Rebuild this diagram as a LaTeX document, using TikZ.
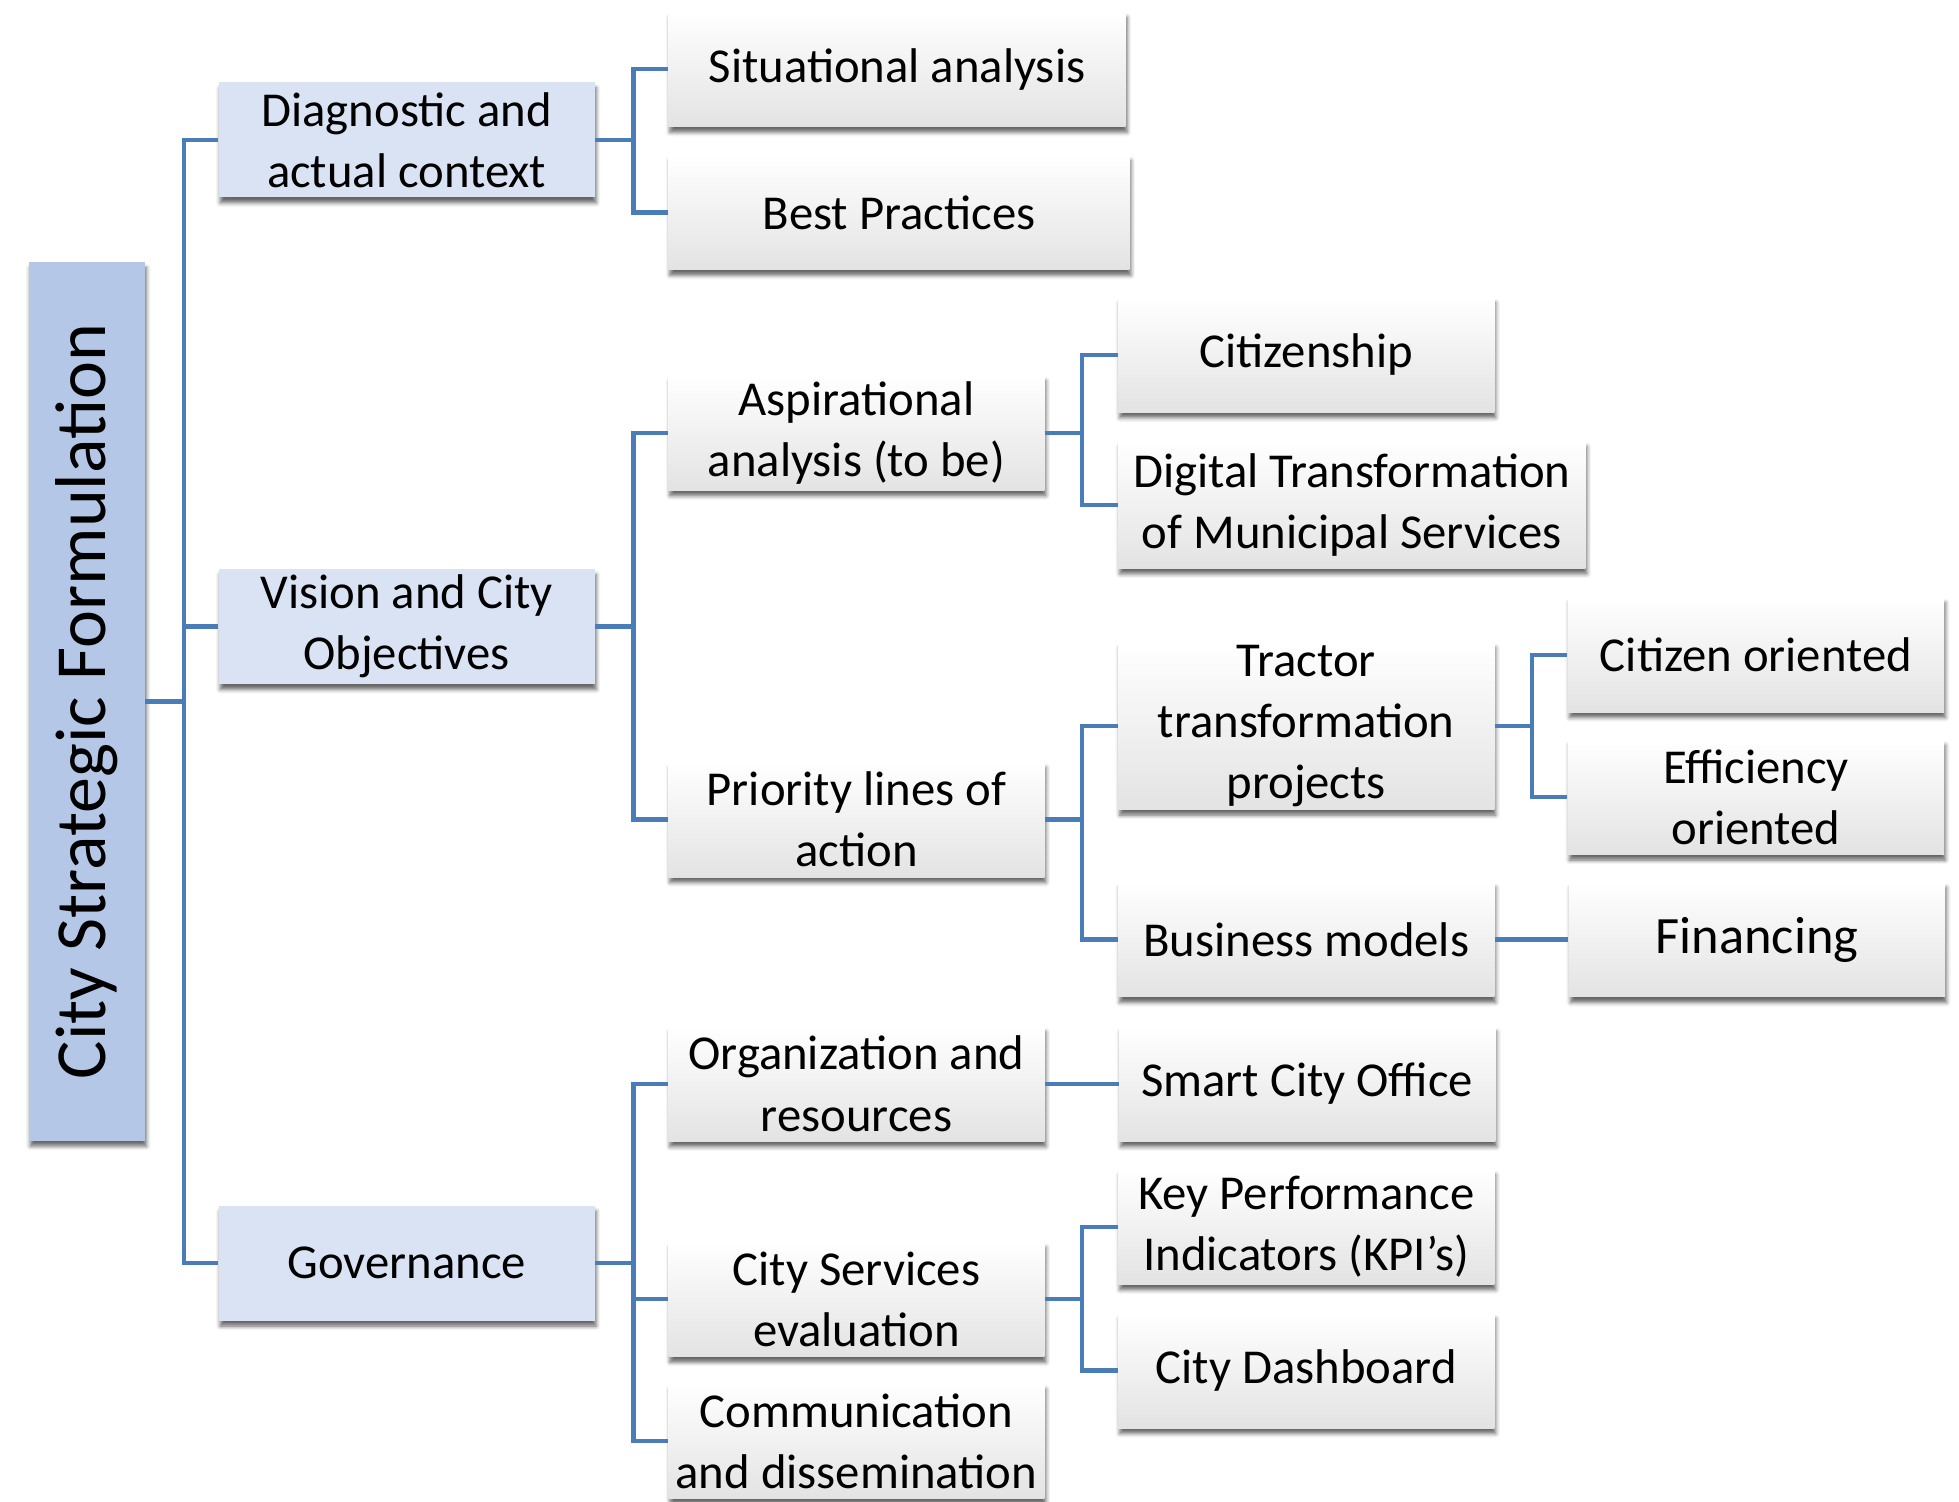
\documentclass[tikz,border=0pt]{standalone}
\usepackage{fontspec}
\setmainfont{Carlito}
\usepackage{xcolor}
\usepackage{tikz}
\usetikzlibrary{positioning, calc, shadows.blur}

\definecolor{linkblue}{RGB}{74,124,184}
\definecolor{topicblue}{RGB}{218,227,243}
\definecolor{rootblue}{RGB}{180,199,231}

\begin{document}
\begin{tikzpicture}[
    x=0.5pt, y=0.5pt,
    basebox/.style={rectangle, inner sep=0pt, align=center, minimum width=150.5pt, minimum height=46pt,
        font=\fontsize{19.5}{24.5}\selectfont,
        blur shadow={shadow xshift=0.6pt, shadow yshift=-2.2pt, shadow blur radius=1.6pt, shadow opacity=60}},
    leafnode/.style={basebox, top color=white, middle color=white, bottom color=black!11},
    topicnode/.style={basebox, fill=topicblue},
    rootnode/.style={basebox, fill=rootblue, rotate=90, minimum width=351.5pt, minimum height=46.5pt,
        font=\fontsize{28.8}{34}\selectfont},
    link/.style={draw=linkblue, line width=1.7pt},
]
\useasboundingbox (0,0) rectangle (1568,-1202);

% root and first level
\node[rootnode](root) at (69.5,-561.5){City Strategic Formulation};
\node[topicnode](diag) at (325.5,-112){Diagnostic and\\actual context};
\node[topicnode](vis) at (325.5,-501.5){Vision and City\\Objectives};
\node[topicnode](gov) at (325.5,-1011){Governance};

% second level
\node[leafnode, minimum width=183pt](sit) at (718,-55.5){Situational analysis};
\node[leafnode, minimum width=184.5pt](best) at (719.5,-170){Best Practices};
\node[leafnode](asp) at (685.5,-346.5){Aspirational\\analysis (to be)};
\node[leafnode](prio) at (685.5,-656){Priority lines of\\action};
\node[leafnode](org) at (685.5,-867.5){Organization and\\resources};
\node[leafnode](cse) at (685.5,-1040){City Services\\evaluation};
\node[leafnode](com) at (685.5,-1153.5){Communication\\and dissemination};

% third level
\node[leafnode](citz) at (1045.5,-284){Citizenship};
\node[leafnode, minimum width=187pt, minimum height=51pt](dig) at (1082,-404){Digital Transformation\\of Municipal Services};
\node[leafnode, minimum height=67pt](trac) at (1045.5,-581){Tractor\\transformation\\projects};
\node[leafnode](bus) at (1045.5,-752){Business models};
\node[leafnode](sco) [right = 29.5pt of org]{Smart City Office};
\node[leafnode](kpi) at (1045.5,-982){Key Performance\\Indicators (KPI’s)};
\node[leafnode](dash) at (1045.5,-1097){City Dashboard};

% fourth level
\node[leafnode](cito) at (1405.5,-524){Citizen oriented};
\node[leafnode](eff) at (1405.5,-638){Efficiency\\oriented};
\node[leafnode, font=\fontsize{21}{26}\selectfont](fin) [right = 29.5pt of bus]{Financing};

% connectors
\draw[link] (root.south) -- ++(31,0) |- (diag);
\draw[link] (root.south) -- ++(31,0) |- (vis);
\draw[link] (root.south) -- ++(31,0) |- (gov);
\draw[link] (diag) -- ++(181.5,0) |- (sit);
\draw[link] (diag) -- ++(181.5,0) |- (best);
\draw[link] (vis) -- ++(181.5,0) |- (asp);
\draw[link] (vis) -- ++(181.5,0) |- (prio);
\draw[link] (gov) -- ++(181.5,0) |- (org);
\draw[link] (gov) -- ++(181.5,0) |- (cse);
\draw[link] (gov) -- ++(181.5,0) |- (com);
\draw[link] (asp) -- ++(180.5,0) |- (citz);
\draw[link] (asp) -- ++(180.5,0) |- (dig);
\draw[link] (prio) -- ++(180.5,0) |- (trac);
\draw[link] (prio) -- ++(180.5,0) |- (bus);
\draw[link] (org) -- (sco);
\draw[link] (cse) -- ++(180.5,0) |- (kpi);
\draw[link] (cse) -- ++(180.5,0) |- (dash);
\draw[link] (trac) -- ++(180.5,0) |- (cito);
\draw[link] (trac) -- ++(180.5,0) |- (eff);
\draw[link] (bus) -- (fin);
\end{tikzpicture}
\end{document}
